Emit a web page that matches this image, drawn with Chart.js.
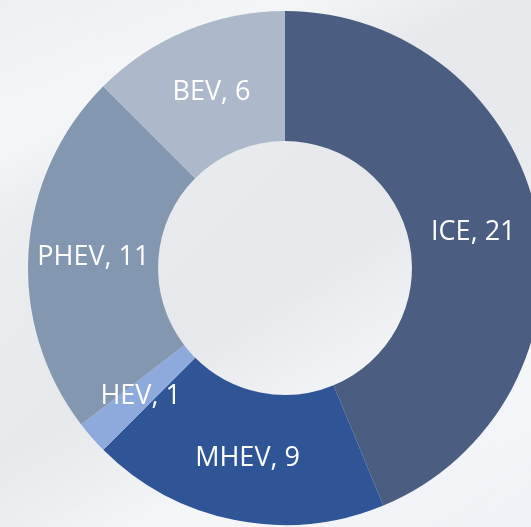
<!DOCTYPE html>
<html lang="en">
<head>
    <meta charset="UTF-8">
    <title>Powertrain mix</title>
    <script src="https://cdn.jsdelivr.net/npm/chart.js"></script>
    <style>
        html, body {
            margin: 0;
            padding: 0;
            width: 531px;
            height: 527px;
            overflow: hidden;
        }
        body {
            background:
                linear-gradient(155deg, rgba(255,255,255,0) 0%, rgba(255,255,255,0.5) 18%, rgba(255,255,255,0) 30%),
                linear-gradient(150deg, rgba(255,255,255,0) 55%, rgba(255,255,255,0.6) 75%, rgba(255,255,255,0.2) 100%),
                linear-gradient(135deg, #eef0f2 0%, #e6e8eb 50%, #eceff5 100%);
        }
        .wrap {
            position: absolute;
            left: 0;
            top: 0;
            width: 570px;
            height: 536px;
        }
    </style>
</head>
<body>
<div class="wrap">
    <canvas id="donut"></canvas>
</div>

<script>
const categories = ['ICE', 'MHEV', 'HEV', 'PHEV', 'BEV'];
const counts = [21, 9, 1, 11, 6];
const sliceColors = ['#4b5d80', '#2f5597', '#8eaadc', '#8497b0', '#adb9ca'];

// "name, value" labels centred on each slice
const sliceLabels = {
    id: 'sliceLabels',
    afterDatasetsDraw(chart) {
        const ctx = chart.ctx;
        const meta = chart.getDatasetMeta(0);
        ctx.save();
        ctx.font = '27px "Open Sans", sans-serif';
        ctx.fillStyle = '#ffffff';
        ctx.textAlign = 'center';
        ctx.textBaseline = 'middle';
        meta.data.forEach((arc, i) => {
            const p = arc.tooltipPosition();
            ctx.fillText(categories[i] + ', ' + counts[i], p.x, p.y + 2);
        });
        ctx.restore();
    }
};

new Chart(document.getElementById('donut'), {
    type: 'doughnut',
    data: {
        labels: categories,
        datasets: [{
            data: counts,
            backgroundColor: sliceColors,
            borderWidth: 0
        }]
    },
    options: {
        responsive: true,
        maintainAspectRatio: false,
        animation: false,
        cutout: '49.4%',
        layout: { padding: 11 },
        plugins: {
            legend: { display: false },
            tooltip: { enabled: false }
        }
    },
    plugins: [sliceLabels]
});
</script>
</body>
</html>
